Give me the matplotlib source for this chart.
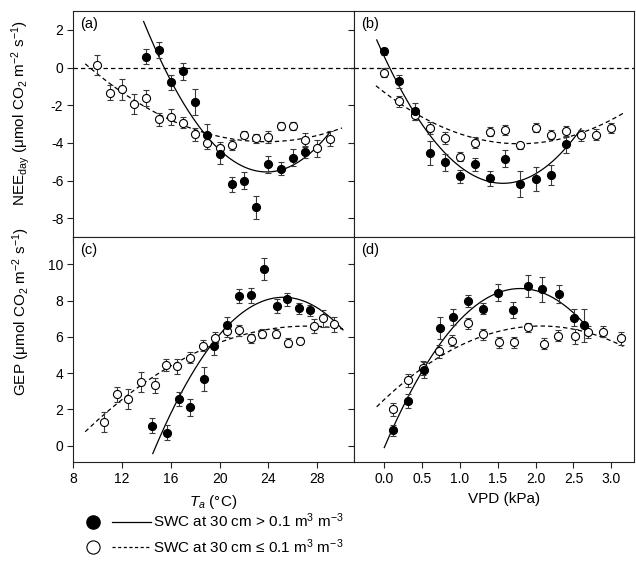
import numpy as np
import matplotlib.pyplot as plt
from matplotlib.lines import Line2D
from matplotlib.legend_handler import HandlerTuple

# Fonts (Arial-like look)
plt.rcParams['font.family'] = ['Liberation Sans', 'DejaVu Sans']
plt.rcParams['mathtext.fontset'] = 'custom'
plt.rcParams['mathtext.rm'] = 'Liberation Sans'
plt.rcParams['mathtext.it'] = 'Liberation Sans:italic'
plt.rcParams['mathtext.default'] = 'regular'
plt.rcParams['axes.unicode_minus'] = False
plt.rcParams['font.size'] = 10

###################################################################################
# Data (bin means +/- SE)

# (a) NEE_day vs Ta
ta_wet_a = [14, 15, 16, 17, 18, 19, 20, 21, 22, 23, 24, 25, 26, 27]
nee_wet_ta = [0.58, 0.93, -0.78, -0.21, -1.83, -3.56, -4.60, -6.19, -6.01, -7.43, -5.13, -5.38, -4.78, -4.50]
nee_wet_ta_err = [0.40, 0.40, 0.40, 0.45, 0.70, 0.55, 0.50, 0.40, 0.45, 0.60, 0.45, 0.35, 0.45, 0.30]

ta_dry_a = [10, 11, 12, 13, 14, 15, 16, 17, 18, 19, 20, 21, 22, 23, 24, 25, 26, 27, 28, 29]
nee_dry_ta = [0.14, -1.34, -1.16, -1.94, -1.62, -2.75, -2.63, -2.93, -3.55, -4.00,
              -4.27, -4.11, -3.56, -3.76, -3.69, -3.12, -3.10, -3.84, -4.29, -3.77]
nee_dry_ta_err = [0.55, 0.40, 0.55, 0.55, 0.40, 0.35, 0.40, 0.30, 0.35, 0.35,
                  0.30, 0.25, 0.20, 0.25, 0.30, 0.20, 0.20, 0.35, 0.45, 0.40]

# (b) NEE_day vs VPD
vpd_wet_b = [0.0, 0.2, 0.4, 0.6, 0.8, 1.0, 1.2, 1.4, 1.6, 1.8, 2.0, 2.2, 2.4]
nee_wet_vpd = [0.86, -0.74, -2.33, -4.53, -5.03, -5.77, -5.13, -5.89, -4.85, -6.17, -5.93, -5.71, -4.07]
nee_wet_vpd_err = [0.20, 0.35, 0.45, 0.65, 0.45, 0.35, 0.35, 0.40, 0.45, 0.70, 0.65, 0.55, 0.45]

vpd_dry_b = [0.0, 0.2, 0.4, 0.6, 0.8, 1.0, 1.2, 1.4, 1.6, 1.8, 2.0, 2.2, 2.4, 2.6, 2.8, 3.0]
nee_dry_vpd = [-0.28, -1.80, -2.50, -3.21, -3.74, -4.73, -4.00, -3.40, -3.32, -4.13,
               -3.19, -3.56, -3.39, -3.60, -3.56, -3.21]
nee_dry_vpd_err = [0.25, 0.30, 0.30, 0.30, 0.30, 0.25, 0.30, 0.25, 0.25, 0.20,
                   0.25, 0.25, 0.30, 0.30, 0.30, 0.25]

# (c) GEP vs Ta
ta_wet_c = [14.5, 15.7, 16.7, 17.6, 18.7, 19.5, 20.6, 21.6, 22.6, 23.6, 24.7, 25.5, 26.5, 27.4]
gep_wet_ta = [1.10, 0.72, 2.57, 2.11, 3.69, 5.50, 6.64, 8.26, 8.28, 9.72, 7.69, 8.07, 7.56, 7.45]
gep_wet_ta_err = [0.40, 0.40, 0.40, 0.45, 0.65, 0.50, 0.45, 0.40, 0.40, 0.60, 0.40, 0.35, 0.30, 0.30]

ta_dry_c = [10.5, 11.6, 12.5, 13.6, 14.7, 15.6, 16.5, 17.6, 18.6, 19.6,
            20.6, 21.6, 22.6, 23.5, 24.6, 25.6, 26.6, 27.7, 28.5, 29.4]
gep_dry_ta = [1.30, 2.83, 2.57, 3.50, 3.32, 4.44, 4.37, 4.84, 5.50, 5.94,
              6.31, 6.35, 5.91, 6.18, 6.18, 5.67, 5.78, 6.59, 7.01, 6.68]
gep_dry_ta_err = [0.55, 0.40, 0.55, 0.55, 0.40, 0.35, 0.40, 0.30, 0.30, 0.30,
                  0.30, 0.30, 0.25, 0.25, 0.25, 0.25, 0.20, 0.40, 0.45, 0.40]

# (d) GEP vs VPD
vpd_wet_d = [0.12, 0.32, 0.52, 0.73, 0.91, 1.11, 1.31, 1.50, 1.70, 1.90, 2.08, 2.31, 2.51, 2.64]
gep_wet_vpd = [0.84, 2.46, 4.17, 6.48, 7.08, 7.98, 7.54, 8.44, 7.47, 8.79, 8.62, 8.35, 7.06, 6.64]
gep_wet_vpd_err = [0.30, 0.40, 0.45, 0.60, 0.45, 0.35, 0.30, 0.45, 0.45, 0.60, 0.70, 0.50, 0.45, 0.90]

vpd_dry_d = [0.12, 0.32, 0.51, 0.72, 0.90, 1.11, 1.31, 1.51, 1.71, 1.90,
             2.11, 2.29, 2.52, 2.69, 2.89, 3.13]
gep_dry_vpd = [2.00, 3.61, 4.29, 5.19, 5.78, 6.75, 6.15, 5.69, 5.69, 6.53,
               5.63, 6.07, 6.02, 6.26, 6.28, 5.91]
gep_dry_vpd_err = [0.35, 0.35, 0.40, 0.35, 0.30, 0.30, 0.30, 0.30, 0.30, 0.25,
                   0.30, 0.30, 0.40, 0.35, 0.30, 0.35]

# Points (a quadratic is fitted through them)
fit_a_wet_x = [13.78, 15.65, 18.96, 23.88, 29.07]
fit_a_wet_y = [2.45, -0.33, -3.51, -5.66, -3.37]
fit_a_dry_x = [9.0, 16.0, 19.78, 24.15, 30.02]
fit_a_dry_y = [0.23, -2.90, -3.60, -3.86, -3.25]
fit_b_wet_x = [-0.10, 0.38, 1.54, 2.60]
fit_b_wet_y = [1.46, -2.28, -6.15, -3.25]
fit_b_dry_x = [-0.11, 0.60, 1.19, 1.79, 2.53, 3.17]
fit_b_dry_y = [-0.90, -2.98, -3.74, -4.00, -3.51, -2.45]
fit_c_wet_x = [14.53, 16.5, 19.5, 24.97, 30.1]
fit_c_wet_y = [-0.46, 2.52, 5.64, 8.21, 6.37]
fit_c_dry_x = [9.0, 15.1, 19.9, 23.3, 30.1]
fit_c_dry_y = [0.74, 4.08, 5.73, 6.20, 6.47]
fit_d_wet_x = [0.0, 0.67, 1.76, 2.65]
fit_d_wet_y = [-0.05, 5.09, 8.76, 6.65]
fit_d_dry_x = [-0.10, 0.67, 1.90, 2.55, 3.16]
fit_d_dry_y = [2.11, 4.81, 6.52, 6.37, 5.49]

###################################################################################

EDGE = '#222222'
ERR = '#3a3a3a'
DASH = (3.5, 2.5)


def fit_curve(ax, xs, ys, dashed):
    coef = np.polyfit(xs, ys, 2)
    xx = np.linspace(min(xs), max(xs), 200)
    line, = ax.plot(xx, np.polyval(coef, xx), color='black', lw=0.9, zorder=2)
    if dashed:
        line.set_dashes(DASH)


def draw_points(ax, x, y, e, filled):
    ax.errorbar(x, y, yerr=e, fmt='o', ms=5.8,
                mfc='black' if filled else 'white', mec='black', mew=0.8,
                ecolor=ERR, elinewidth=0.8, capsize=2.2, capthick=0.8, zorder=3)


def style_axes(ax, label):
    ax.tick_params(direction='out', length=4.5, width=0.8, color=EDGE,
                   labelsize=10, pad=2.5)
    for sp in ax.spines.values():
        sp.set_linewidth(0.8)
        sp.set_color(EDGE)
    ax.text(0.025, 0.975, label, transform=ax.transAxes, ha='left', va='top',
            fontsize=10.5)


fig = plt.figure(figsize=(6.36, 5.63), dpi=100)
W, H = 636.0, 563.0
x0, x1, x2 = 73 / W, 354 / W, 634 / W
y_top, y_mid, y_bot = 1 - 11 / H, 1 - 237 / H, 1 - 462 / H

ax_a = fig.add_axes([x0, y_mid, x1 - x0, y_top - y_mid])
ax_b = fig.add_axes([x1, y_mid, x2 - x1, y_top - y_mid])
ax_c = fig.add_axes([x0, y_bot, x1 - x0, y_mid - y_bot])
ax_d = fig.add_axes([x1, y_bot, x2 - x1, y_mid - y_bot])

# (a)
fit_curve(ax_a, fit_a_wet_x, fit_a_wet_y, False)
fit_curve(ax_a, fit_a_dry_x, fit_a_dry_y, True)
draw_points(ax_a, ta_dry_a, nee_dry_ta, nee_dry_ta_err, False)
draw_points(ax_a, ta_wet_a, nee_wet_ta, nee_wet_ta_err, True)

# (b)
fit_curve(ax_b, fit_b_wet_x, fit_b_wet_y, False)
fit_curve(ax_b, fit_b_dry_x, fit_b_dry_y, True)
draw_points(ax_b, vpd_dry_b, nee_dry_vpd, nee_dry_vpd_err, False)
draw_points(ax_b, vpd_wet_b, nee_wet_vpd, nee_wet_vpd_err, True)

# (c)
fit_curve(ax_c, fit_c_wet_x, fit_c_wet_y, False)
fit_curve(ax_c, fit_c_dry_x, fit_c_dry_y, True)
draw_points(ax_c, ta_dry_c, gep_dry_ta, gep_dry_ta_err, False)
draw_points(ax_c, ta_wet_c, gep_wet_ta, gep_wet_ta_err, True)

# (d)
fit_curve(ax_d, fit_d_wet_x, fit_d_wet_y, False)
fit_curve(ax_d, fit_d_dry_x, fit_d_dry_y, True)
draw_points(ax_d, vpd_dry_d, gep_dry_vpd, gep_dry_vpd_err, False)
draw_points(ax_d, vpd_wet_d, gep_wet_vpd, gep_wet_vpd_err, True)

# zero lines on the NEE panels
for ax in (ax_a, ax_b):
    zl = ax.axhline(0, color='black', lw=0.9, zorder=1)
    zl.set_dashes(DASH)

# limits and ticks
for ax in (ax_a, ax_c):
    ax.set_xlim(8, 31)
    ax.set_xticks([8, 12, 16, 20, 24, 28])
for ax in (ax_b, ax_d):
    ax.set_xlim(-0.4, 3.3)
    ax.set_xticks([0.0, 0.5, 1.0, 1.5, 2.0, 2.5, 3.0])
    ax.set_xticklabels(['0.0', '0.5', '1.0', '1.5', '2.0', '2.5', '3.0'])
for ax in (ax_a, ax_b):
    ax.set_ylim(-9, 3)
    ax.set_yticks([-8, -6, -4, -2, 0, 2])
    ax.tick_params(labelbottom=False)
for ax in (ax_c, ax_d):
    ax.set_ylim(-0.9, 11.5)
    ax.set_yticks([0, 2, 4, 6, 8, 10])
for ax in (ax_b, ax_d):
    ax.tick_params(labelleft=False)

for ax, lab in zip((ax_a, ax_b, ax_c, ax_d), ('(a)', '(b)', '(c)', '(d)')):
    style_axes(ax, lab)

# axis labels
ax_a.set_ylabel('NEE$_{day}$ (μmol CO$_2$ m$^{-2}$ s$^{-1}$)', fontsize=11)
ax_a.yaxis.set_label_coords(-0.145, 0.546)
ax_c.set_ylabel('GEP (μmol CO$_2$ m$^{-2}$ s$^{-1}$)', fontsize=11)
ax_c.yaxis.set_label_coords(-0.145, 0.67)
ax_c.set_xlabel('$\\mathit{T_a}$ (°C)', fontsize=11, labelpad=5)
ax_d.set_xlabel('VPD (kPa)', fontsize=11, labelpad=5)
ax_d.xaxis.set_label_coords(0.536, -0.132)

# legend
m_wet = Line2D([], [], ls='none', marker='o', ms=9.5, mfc='black', mec='black')
m_dry = Line2D([], [], ls='none', marker='o', ms=9.5, mfc='white', mec='black', mew=0.8)
l_wet = Line2D([], [], color='black', lw=0.9)
l_dry = Line2D([], [], color='black', lw=0.9, dashes=(2.5, 2))
fig.legend([(m_wet, l_wet), (m_dry, l_dry)],
           ['SWC at 30 cm > 0.1 m$^3$ m$^{-3}$', 'SWC at 30 cm ≤ 0.1 m$^3$ m$^{-3}$'],
           handler_map={tuple: HandlerTuple(ndivide=None, pad=0)},
           loc='upper left', bbox_to_anchor=(0.107, 0.102), frameon=False,
           fontsize=11, handlelength=5.0, handletextpad=0.15, labelspacing=0.45,
           borderaxespad=0)

fig.savefig('out.png', dpi=100)
